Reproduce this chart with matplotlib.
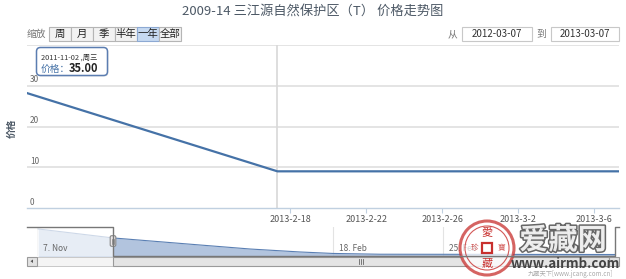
import matplotlib
matplotlib.use('Agg')
import matplotlib.pyplot as plt
import matplotlib.patheffects as pe
import numpy as np
import pandas as pd
from matplotlib.patches import Rectangle, FancyBboxPatch, Circle, Polygon

plt.rcParams['font.family'] = ['Noto Sans CJK SC', 'DejaVu Sans']

# ---- data ----
title = '2009-14 三江源自然保护区（T） 价格走势图'
price_dates = ['2013-02-04 04:00', '2013-02-17 08:00', '2013-03-07 07:00']
prices = [28.2, 9.0, 9.0]
x_tick_dates = ['2013-02-18', '2013-02-22', '2013-02-26', '2013-03-02', '2013-03-06']
y_ticks = [0, 10, 20, 30, 40]
y_tick_labels = ['0', '10', '20', '30', '']

zoom_buttons = ['周', '月', '季', '半年', '一年', '全部']
zoom_selected = 4
range_from = '2012-03-07'
range_to = '2013-03-07'

tooltip_date = '2011-11-02 ,周三'
tooltip_price = '35.00'

# navigator (ordinal position in % of navigator width, price)
nav_pos = [0.2, 13.1, 19.6, 28.2, 36.9, 45.5, 51.2, 59.3, 100]
nav_values = [35.0, 25.9, 22.8, 18.7, 14.6, 11.6, 10.1, 9.3, 9.0]
nav_sel_start = 13.1
nav_tick_pos = [0, 51.2, 70.2, 89.3]
nav_tick_labels = ['7. Nov', '18. Feb', '25. Feb', '4. Mar']

W, H = 626, 279
LINE = '#4572A7'
GRID = '#DCDCDC'


def add_px_axes(fig, l, t, r, b):
    return fig.add_axes([l / W, 1 - b / H, (r - l) / W, (b - t) / H])


fig = plt.figure(figsize=(W / 100, H / 100), dpi=100)
fig.patch.set_facecolor('white')

# ---- main chart ----
ax = add_px_axes(fig, 27, 45, 619, 208)
dates = pd.to_datetime(price_dates)
ax.plot(dates, prices, color=LINE, lw=1.6, zorder=3)
ax.axvline(dates[1], color='#D8D8D8', lw=1.2, zorder=1)
ax.set_xlim(dates[0], dates[-1])
ax.set_ylim(0, 40)
for y in y_ticks[1:]:
    ax.axhline(y, color=GRID, lw=1.1, zorder=0)
for y, lab in zip(y_ticks, y_tick_labels):
    ax.annotate(lab, xy=(0, y), xycoords=('axes fraction', 'data'),
                xytext=(2, 1), textcoords='offset points',
                ha='left', va='bottom', fontsize=6, color='#666666')
ax.set_yticks([])
xt = pd.to_datetime(x_tick_dates)
ax.set_xticks(xt)
ax.set_xticklabels([f'{d.year}-{d.month}-{d.day}' for d in xt])
ax.tick_params(axis='x', colors='#C0D0E0', length=3.5, width=0.8, pad=1.5,
               labelsize=6.5, labelcolor='#555555')
for s in ['top', 'left', 'right']:
    ax.spines[s].set_visible(False)
ax.spines['bottom'].set_color('#C0D0E0')
ax.spines['bottom'].set_linewidth(1.0)
ax.patch.set_alpha(0)

# ---- navigator ----
nav = add_px_axes(fig, 37, 227, 615, 256)
nav.set_xlim(0, 100)
nav.set_ylim(7.5, 37)
for p in nav_tick_pos:
    nav.axvline(p, color='#E3E3E3', lw=0.8, zorder=0)
nav.fill_between(nav_pos, nav_values, 7.5, color='#9FB6D6', alpha=0.8, lw=0, zorder=2)
nav.plot(nav_pos, nav_values, color='#5A7FB3', lw=0.8, zorder=3)
nav.axvspan(0, nav_sel_start, color='white', alpha=0.7, lw=0, zorder=4)
for p, lab in zip(nav_tick_pos, nav_tick_labels):
    nav.text(p + 1.0, 11, lab, fontsize=6, color='#666666', ha='left', va='bottom', zorder=5)
nav.axis('off')

# ---- overlay in pixel coordinates ----
ov = fig.add_axes([0, 0, 1, 1])
ov.set_xlim(0, W)
ov.set_ylim(H, 0)
ov.axis('off')
ov.set_zorder(10)

ov.text(313, 11, title, ha='center', va='center', fontsize=9.5, color='#4D5966')

# zoom buttons
ov.text(27, 34, '缩放', ha='left', va='center', fontsize=7, color='#777777')
bx = 49
for i, lab in enumerate(zoom_buttons):
    sel = i == zoom_selected
    ov.add_patch(Rectangle((bx, 27), 21.5, 13.5,
                           facecolor='#C6D9F1' if sel else '#F2F2F2',
                           edgecolor='#8DA9D3' if sel else '#B5B5B5', lw=0.8))
    ov.text(bx + 10.75, 34, lab, ha='center', va='center', fontsize=7.5, color='#222222')
    bx += 22

# date range inputs
ov.text(452, 34, '从', ha='center', va='center', fontsize=7, color='#777777')
ov.add_patch(Rectangle((462, 27), 70, 14, facecolor='white', edgecolor='#C8C8C8', lw=0.8))
ov.text(497, 34, range_from, ha='center', va='center', fontsize=7, color='#333333')
ov.text(541, 34, '到', ha='center', va='center', fontsize=7, color='#777777')
ov.add_patch(Rectangle((551, 27), 68, 14, facecolor='white', edgecolor='#C8C8C8', lw=0.8))
ov.text(585, 34, range_to, ha='center', va='center', fontsize=7, color='#333333')

# y axis title
ov.text(12, 128, '价格', rotation=90, ha='center', va='center', fontsize=7,
        fontweight='bold', color='#4D5966')

# tooltip
ov.add_patch(FancyBboxPatch((39, 50), 68, 25, boxstyle='round,pad=1.5,rounding_size=4',
                            facecolor='#BBBBBB', edgecolor='none', alpha=0.35))
ov.add_patch(FancyBboxPatch((38, 49), 68, 25, boxstyle='round,pad=1.5,rounding_size=4',
                            facecolor='white', edgecolor='#5B7DB1', lw=1.1))
ov.text(41, 58, tooltip_date, ha='left', va='center', fontsize=5.3, color='#333333')
ov.text(41, 69, '价格：', ha='left', va='center', fontsize=7, color=LINE)
ov.text(69, 69, tooltip_price, ha='left', va='center', fontsize=8, fontweight='bold', color='#222222')

# navigator outline and handle
ov.plot([27, 113, 113, 615, 615, 619], [227, 227, 256, 256, 227, 227], color='#777777', lw=1.0)
ov.add_patch(FancyBboxPatch((110.5, 236), 5, 10, boxstyle='round,pad=0.3,rounding_size=1.5',
                            facecolor='#EBE7E8', edgecolor='#888888', lw=0.8))
for x in (112.3, 113.7):
    ov.plot([x, x], [238.5, 243.5], color='#777777', lw=0.5)

# scrollbar
ov.add_patch(Rectangle((37, 257), 572, 8.5, facecolor='#F4F4F4', edgecolor='#C8C8C8', lw=0.7))
ov.add_patch(Rectangle((113, 256.5), 496, 9, facecolor='#E4E4E4', edgecolor='#9A9A9A', lw=0.8))
ov.add_patch(Rectangle((27, 257), 10, 8.5, facecolor='#E2E2E2', edgecolor='#9A9A9A', lw=0.8))
ov.add_patch(Polygon([[30.5, 261.2], [33, 259.5], [33, 263]], closed=True, facecolor='#555555', lw=0))
ov.add_patch(Rectangle((609, 257), 10, 8.5, facecolor='#E2E2E2', edgecolor='#9A9A9A', lw=0.8))
for x in (358.5, 360.5, 362.5):
    ov.plot([x, x], [259, 263.5], color='#666666', lw=0.6)

# watermark
RED = '#C8302E'
ov.add_patch(Circle((487, 248), 27, facecolor='white', edgecolor=RED, lw=2.2, alpha=0.75))
ov.add_patch(Circle((487, 248), 22, facecolor='none', edgecolor=RED, lw=0.8, alpha=0.8))
ov.add_patch(Rectangle((482, 243), 10, 10, facecolor='white', edgecolor=RED, lw=1.6))
ov.text(487, 233, '愛', ha='center', va='center', fontsize=8, color=RED)
ov.text(487, 264, '藏', ha='center', va='center', fontsize=8, color=RED)
ov.text(474, 248, '珍', ha='center', va='center', fontsize=5.5, color=RED, alpha=0.8)
ov.text(501, 248, '寶', ha='center', va='center', fontsize=5.5, color=RED, alpha=0.8)
ov.text(563, 240, '爱藏网', ha='center', va='center', fontsize=21, fontweight='bold',
        color='#F4F4F4', alpha=0.95,
        path_effects=[pe.withStroke(linewidth=2.2, foreground='#5E5E5E')])
ov.text(565, 264, 'www.airmb.com', ha='center', va='center', fontsize=9.5,
        fontweight='bold', color='#444444')
ov.text(570, 274, '九藏天下[www.jcang.com.cn]', ha='center', va='center', fontsize=4.5,
        color='#AAAAAA')

fig.savefig('out.png', dpi=100, facecolor='white')
